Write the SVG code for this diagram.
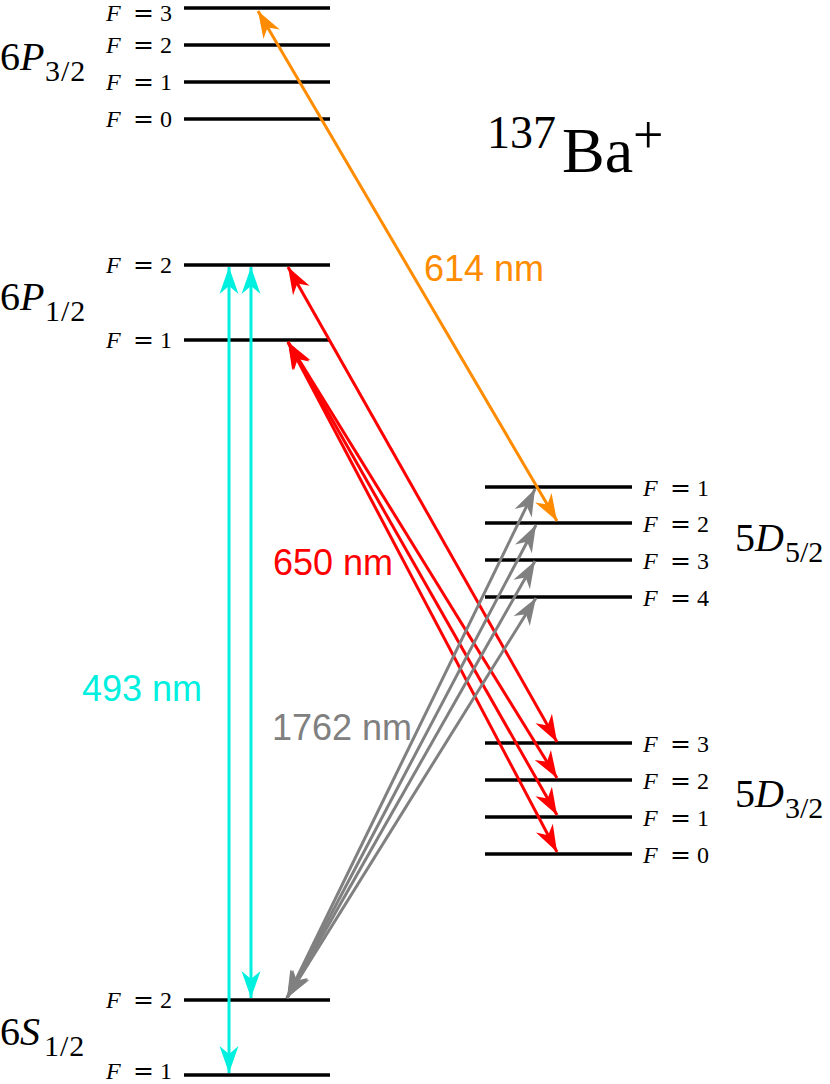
<svg xmlns="http://www.w3.org/2000/svg" width="830" height="1084" viewBox="0 0 830 1084">
<style>
.lvl{stroke:#000;stroke-width:3.5;fill:none}
.fl{font-family:"Liberation Serif","DejaVu Serif",serif;font-size:24px;fill:#000}
.fl .f{font-style:italic}
.fl .eq{font-family:"DejaVu Serif","Liberation Serif",serif;font-size:25px}
.nm{font-family:"Liberation Serif","DejaVu Serif",serif;font-size:40px;fill:#000}
.nm .it{font-style:italic}
.nm .sb{font-size:30px}
.wl{font-family:"Liberation Sans",Arial,sans-serif;font-size:36px}
.ar{fill:none;stroke-width:3}
</style>
<defs>
<marker id="hc" markerUnits="userSpaceOnUse" markerWidth="32" markerHeight="24" viewBox="-28 -12 30 24" refX="0" refY="0" orient="auto-start-reverse"><path d="M0,0 L-27,-9.5 L-19,0 L-27,9.5 Z" fill="#00f0e0"/></marker>
<marker id="hr" markerUnits="userSpaceOnUse" markerWidth="32" markerHeight="24" viewBox="-28 -12 30 24" refX="0" refY="0" orient="auto-start-reverse"><path d="M0,0 L-27,-9.5 L-19,0 L-27,9.5 Z" fill="#ff0000"/></marker>
<marker id="hg" markerUnits="userSpaceOnUse" markerWidth="32" markerHeight="24" viewBox="-28 -12 30 24" refX="0" refY="0" orient="auto-start-reverse"><path d="M0,0 L-27,-9.5 L-19,0 L-27,9.5 Z" fill="#808080"/></marker>
<marker id="ho" markerUnits="userSpaceOnUse" markerWidth="32" markerHeight="24" viewBox="-28 -12 30 24" refX="0" refY="0" orient="auto-start-reverse"><path d="M0,0 L-27,-9.5 L-19,0 L-27,9.5 Z" fill="#ff8c00"/></marker>
</defs>

<g id="title"><text class="nm"><tspan x="487" y="148" font-size="46">137</tspan><tspan x="562" y="172" font-size="64">Ba</tspan><tspan x="633" y="153" font-size="54">+</tspan></text></g>

<g id="level-6P32">
<line class="lvl" x1="184" y1="8" x2="330" y2="8"/>
<line class="lvl" x1="184" y1="45" x2="330" y2="45"/>
<line class="lvl" x1="184" y1="82" x2="330" y2="82"/>
<line class="lvl" x1="184" y1="119" x2="330" y2="119"/>
<text class="fl" y="21" font-size="23"><tspan class="f" x="106">F</tspan><tspan class="eq" x="133" font-size="24">=</tspan><tspan x="160">3</tspan></text>
<text class="fl" y="53"><tspan class="f" x="106">F</tspan><tspan class="eq" x="133">=</tspan><tspan x="160">2</tspan></text>
<text class="fl" y="90"><tspan class="f" x="106">F</tspan><tspan class="eq" x="133">=</tspan><tspan x="160">1</tspan></text>
<text class="fl" y="127"><tspan class="f" x="106">F</tspan><tspan class="eq" x="133">=</tspan><tspan x="160">0</tspan></text>
<text class="nm"><tspan x="0" y="70">6</tspan><tspan class="it">P</tspan><tspan class="sb" x="45" y="81" letter-spacing="1">3/2</tspan></text>
</g>

<g id="level-6P12">
<line class="lvl" x1="184" y1="265" x2="330" y2="265"/>
<line class="lvl" x1="184" y1="340" x2="330" y2="340"/>
<text class="fl" y="273"><tspan class="f" x="106">F</tspan><tspan class="eq" x="133">=</tspan><tspan x="160">2</tspan></text>
<text class="fl" y="348"><tspan class="f" x="106">F</tspan><tspan class="eq" x="133">=</tspan><tspan x="160">1</tspan></text>
<text class="nm"><tspan x="0" y="310">6</tspan><tspan class="it">P</tspan><tspan class="sb" x="45" y="321" letter-spacing="1">1/2</tspan></text>
</g>

<g id="level-6S12">
<line class="lvl" x1="184" y1="1000" x2="330" y2="1000"/>
<line class="lvl" x1="184" y1="1075" x2="330" y2="1075"/>
<text class="fl" y="1008"><tspan class="f" x="106">F</tspan><tspan class="eq" x="133">=</tspan><tspan x="160">2</tspan></text>
<text class="fl" y="1079" font-size="23"><tspan class="f" x="106">F</tspan><tspan class="eq" x="133" font-size="24">=</tspan><tspan x="160">1</tspan></text>
<text class="nm"><tspan x="0" y="1045">6</tspan><tspan class="it">S</tspan><tspan class="sb" x="44" y="1056" letter-spacing="1">1/2</tspan></text>
</g>

<g id="level-5D52">
<line class="lvl" x1="485" y1="487" x2="632" y2="487"/>
<line class="lvl" x1="485" y1="523" x2="632" y2="523"/>
<line class="lvl" x1="485" y1="560" x2="632" y2="560"/>
<line class="lvl" x1="485" y1="597" x2="632" y2="597"/>
<text class="fl" y="496"><tspan class="f" x="643">F</tspan><tspan class="eq" x="670">=</tspan><tspan x="697">1</tspan></text>
<text class="fl" y="532"><tspan class="f" x="643">F</tspan><tspan class="eq" x="670">=</tspan><tspan x="697">2</tspan></text>
<text class="fl" y="569"><tspan class="f" x="643">F</tspan><tspan class="eq" x="670">=</tspan><tspan x="697">3</tspan></text>
<text class="fl" y="606"><tspan class="f" x="643">F</tspan><tspan class="eq" x="670">=</tspan><tspan x="697">4</tspan></text>
<text class="nm"><tspan x="735" y="551">5</tspan><tspan class="it">D</tspan><tspan class="sb" x="785" y="562">5/2</tspan></text>
</g>

<g id="level-5D32">
<line class="lvl" x1="485" y1="743" x2="632" y2="743"/>
<line class="lvl" x1="485" y1="780" x2="632" y2="780"/>
<line class="lvl" x1="485" y1="817" x2="632" y2="817"/>
<line class="lvl" x1="485" y1="854" x2="632" y2="854"/>
<text class="fl" y="752"><tspan class="f" x="643">F</tspan><tspan class="eq" x="670">=</tspan><tspan x="697">3</tspan></text>
<text class="fl" y="789"><tspan class="f" x="643">F</tspan><tspan class="eq" x="670">=</tspan><tspan x="697">2</tspan></text>
<text class="fl" y="826"><tspan class="f" x="643">F</tspan><tspan class="eq" x="670">=</tspan><tspan x="697">1</tspan></text>
<text class="fl" y="863"><tspan class="f" x="643">F</tspan><tspan class="eq" x="670">=</tspan><tspan x="697">0</tspan></text>
<text class="nm"><tspan x="735" y="807">5</tspan><tspan class="it">D</tspan><tspan class="sb" x="785" y="818">3/2</tspan></text>
</g>

<g id="connectors">
<path class="ar" stroke="#00f0e0" d="M229,267 L229,1073" marker-start="url(#hc)" marker-end="url(#hc)"/>
<path class="ar" stroke="#00f0e0" d="M251,267 L251,998" marker-start="url(#hc)" marker-end="url(#hc)"/>
<path class="ar" stroke="#ff0000" d="M288,267 L557,742" marker-start="url(#hr)" marker-end="url(#hr)"/>
<path class="ar" stroke="#ff0000" d="M288,342 L557,778" marker-start="url(#hr)" marker-end="url(#hr)"/>
<path class="ar" stroke="#ff0000" d="M288,342 L557,815" marker-start="url(#hr)" marker-end="url(#hr)"/>
<path class="ar" stroke="#ff0000" d="M288,342 L557,852" marker-start="url(#hr)" marker-end="url(#hr)"/>
<path class="ar" stroke="#808080" d="M287,998 L535,489" marker-start="url(#hg)" marker-end="url(#hg)"/>
<path class="ar" stroke="#808080" d="M287,998 L536,525" marker-start="url(#hg)" marker-end="url(#hg)"/>
<path class="ar" stroke="#808080" d="M287,998 L535,561" marker-start="url(#hg)" marker-end="url(#hg)"/>
<path class="ar" stroke="#808080" d="M287,998 L536,598" marker-start="url(#hg)" marker-end="url(#hg)"/>
<path class="ar" stroke="#ff8c00" d="M258,11 L557,521" marker-start="url(#ho)" marker-end="url(#ho)"/>
</g>

<g id="labels">
<text class="wl" x="424" y="281" fill="#ff8c00">614 nm</text>
<text class="wl" x="273" y="575" fill="#ff0000">650 nm</text>
<text class="wl" x="82" y="701" fill="#00f0e0">493 nm</text>
<text class="wl" x="272" y="740" fill="#808080">1762 nm</text>
</g>
</svg>
